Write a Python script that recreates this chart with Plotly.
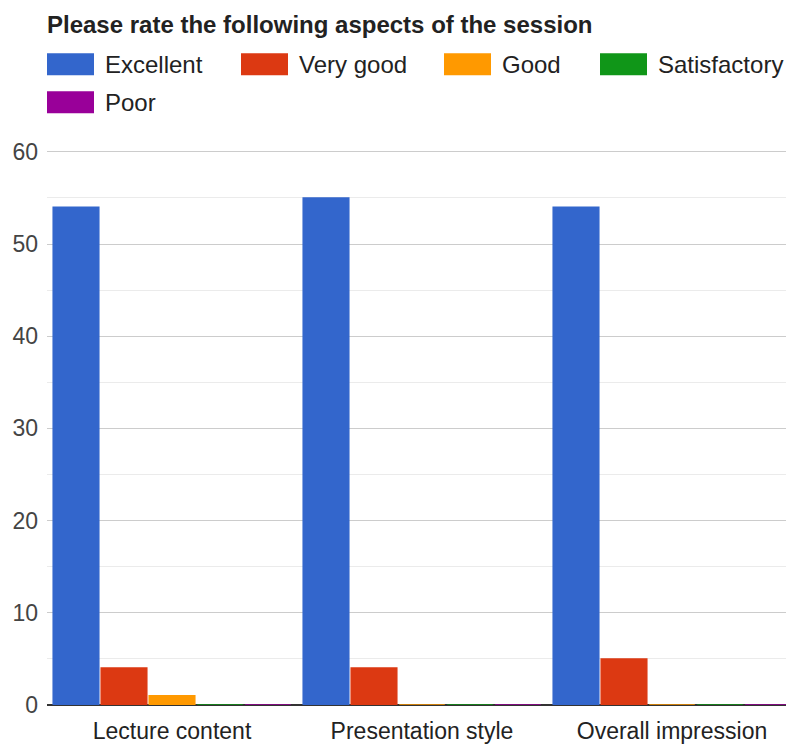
import plotly.graph_objects as go

title = "Please rate the following aspects of the session"
categories = ["Lecture content", "Presentation style", "Overall impression"]
series_names = ["Excellent", "Very good", "Good", "Satisfactory", "Poor"]
excellent = [54, 55, 54]
very_good = [4, 4, 5]
good = [1, 0, 0]
satisfactory = [0, 0, 0]
poor = [0, 0, 0]
series_values = [excellent, very_good, good, satisfactory, poor]
colors = ["#3366CC", "#DC3912", "#FF9900", "#109618", "#990099"]
y_ticks = [0, 10, 20, 30, 40, 50, 60]

FONT = "Liberation Sans, Arial, sans-serif"
OFF = 0  # page body margin (removed via post_script)
W, H = 786, 744
ML, MR, MT, MB = 47 - OFF, 0, 150 - OFF, H - (707 - OFF)

fig = go.Figure()
for name, vals, col in zip(series_names, series_values, colors):
    fig.add_trace(go.Bar(
        x=categories, y=vals, name=name,
        marker=dict(color=col, line=dict(color=col, width=1.5)),
        showlegend=False,
    ))

# custom legend: big swatches like Google Charts (screen pixel positions)
legend_pos = [(47, 64), (241, 64), (444, 64), (600, 64), (47, 102)]
shapes = []
annotations = []
pw = W - ML - MR
ph = H - MT - MB
def px_to_paper_x(px):
    return (px - OFF - ML) / pw
def px_to_paper_y(py):
    return (H - MB - (py - OFF)) / ph

for (lx, ly), name, col in zip(legend_pos, series_names, colors):
    shapes.append(dict(type="rect", xref="paper", yref="paper",
                       x0=px_to_paper_x(lx), x1=px_to_paper_x(lx + 47),
                       y0=px_to_paper_y(ly + 11), y1=px_to_paper_y(ly - 11),
                       fillcolor=col, line=dict(width=0), layer="above"))
    annotations.append(dict(xref="paper", yref="paper",
                            x=px_to_paper_x(lx + 56), y=px_to_paper_y(ly),
                            text=name, showarrow=False, xanchor="left", yanchor="middle",
                            font=dict(family=FONT, size=24, color="#222222")))

annotations.append(dict(xref="paper", yref="paper",
                        x=px_to_paper_x(45), y=px_to_paper_y(24),
                        text="<b>" + title + "</b>", showarrow=False,
                        xanchor="left", yanchor="middle",
                        font=dict(family=FONT, size=24, color="#222222")))

fig.update_layout(
    width=W, height=H,
    margin=dict(l=ML, r=MR, t=MT, b=MB, pad=0),
    paper_bgcolor="white", plot_bgcolor="white",
    barmode="group", bargap=0.04, bargroupgap=0.05,
    shapes=shapes, annotations=annotations,
    font=dict(family=FONT, color="#444444"),
    xaxis=dict(
        type="category", range=[-0.5, -0.5 + (786 - 47) / 250],
        showgrid=False, zeroline=False, showline=False,
        ticks="", tickfont=dict(size=23, color="#222222"),
        ticklabelstandoff=10,
    ),
    yaxis=dict(
        range=[0, 60.2], tickvals=y_ticks, showgrid=True,
        gridcolor="#cccccc", gridwidth=1,
        zeroline=True, zerolinecolor="#333333", zerolinewidth=2,
        showline=False, ticks="",
        tickfont=dict(size=23, color="#444444"),
        ticklabelstandoff=8,
        minor=dict(dtick=5, showgrid=True, gridcolor="#ebebeb", gridwidth=1, ticks=""),
    ),
)

fig.write_html(
    "out.html",
    config={"displayModeBar": False},
    post_script=("document.body.style.margin='0';"
                 "document.documentElement.style.overflow='hidden';"
                 "document.body.style.overflow='hidden';"),
)
